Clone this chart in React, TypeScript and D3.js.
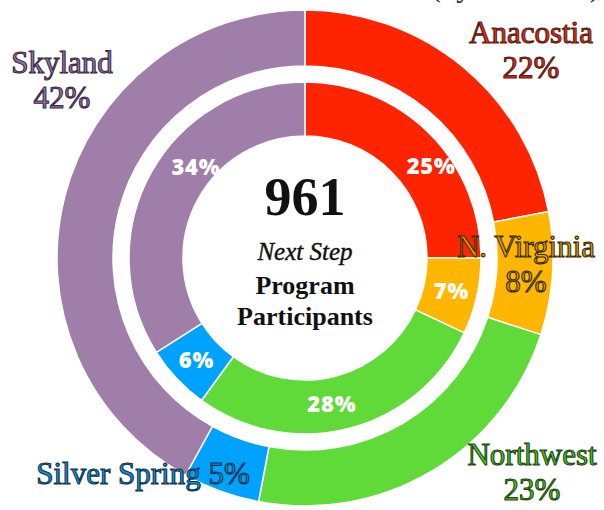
import React from "react";
import * as d3 from "d3";

const sites = ["Anacostia", "N. Virginia", "Northwest", "Silver Spring", "Skyland"];
const outerValues = [22, 8, 23, 5, 42];
const innerValues = [25, 7, 28, 6, 34];
const colors = ["#FF2400", "#FFB600", "#5FDA38", "#00A2FF", "#A07EAA"];
const labelFill = ["#E5301A", "#E8A400", "#4EC22E", "#1C8FD2", "#9678A4"];
const labelStroke = ["#5A1A10", "#3A2A00", "#1E4A12", "#0B3552", "#3A2A48"];
const totalParticipants = "961";

const W = 604;
const H = 510;
const cx = 305;
const cy = 258;

// outer label layout (annotation placement)
const outerLabelLayout: Record<string, { x: number; y: number; twoLine: boolean }> = {
  "Anacostia": { x: 531, y: 43, twoLine: true },
  "Skyland": { x: 62, y: 73, twoLine: true },
  "N. Virginia": { x: 526, y: 257, twoLine: true },
  "Northwest": { x: 532, y: 465, twoLine: true },
  "Silver Spring": { x: 143, y: 484, twoLine: false },
};

// inner label placement tweaks: angle shift (degrees) and radius
const innerLabelTweak: Record<string, { dAngle: number; r: number }> = {
  "Anacostia": { dAngle: 9, r: 156 },
  "N. Virginia": { dAngle: 0, r: 150 },
  "Northwest": { dAngle: 4, r: 149 },
  "Silver Spring": { dAngle: 0, r: 149 },
  "Skyland": { dAngle: 11, r: 142 },
};

export default function App() {
  const pie = d3.pie<number>().sort(null).value((d) => d);
  const outerArcs = pie(outerValues);
  const innerArcs = pie(innerValues);
  const outerArc = d3.arc<d3.PieArcDatum<number>>().innerRadius(192).outerRadius(248);
  const innerArc = d3.arc<d3.PieArcDatum<number>>().innerRadius(122).outerRadius(176);

  const serif = "'Liberation Serif', 'Times New Roman', serif";
  const sans = "'Open Sans', 'Noto Sans', sans-serif";

  return (
    <div style={{ position: "fixed", left: 0, top: 0, width: W, height: H, background: "#fff" }}>
      <svg width={W} height={H} viewBox={`0 0 ${W} ${H}`}>
        <rect width={W} height={H} fill="#fff" />
        <text x={600} y={-4} textAnchor="end" fontFamily={serif} fontSize={31} fill="#333">
          (by Location)
        </text>
        <g transform={`translate(${cx},${cy})`}>
          {outerArcs.map((a, i) => (
            <path key={"o" + i} d={outerArc(a) || ""} fill={colors[i]} stroke="#fff" strokeWidth={1.5} />
          ))}
          {innerArcs.map((a, i) => (
            <path key={"i" + i} d={innerArc(a) || ""} fill={colors[i]} stroke="#fff" strokeWidth={1.5} />
          ))}
          {innerArcs.map((a, i) => {
            const t = innerLabelTweak[sites[i]];
            const ang = (a.startAngle + a.endAngle) / 2 + (t.dAngle * Math.PI) / 180;
            const x = t.r * Math.sin(ang);
            const y = -t.r * Math.cos(ang);
            return (
              <text
                key={"il" + i}
                x={x}
                y={y}
                dy="0.36em"
                textAnchor="middle"
                fontFamily={sans}
                fontWeight={800}
                fontSize={22}
                letterSpacing={0.8}
                fill="#fff"
              >
                {innerValues[i]}%
              </text>
            );
          })}
        </g>
        {sites.map((s, i) => {
          const L = outerLabelLayout[s];
          const common = {
            fontFamily: serif,
            fontSize: 31,
            fill: labelFill[i],
            stroke: labelStroke[i],
            strokeWidth: 1.1,
            textAnchor: "middle" as const,
          };
          if (L.twoLine) {
            return (
              <g key={"ol" + i}>
                <text x={L.x} y={L.y} {...common}>{s}</text>
                <text x={L.x} y={L.y + 35} {...common}>{outerValues[i]}%</text>
              </g>
            );
          }
          return (
            <text key={"ol" + i} x={L.x} y={L.y} {...common}>
              {s} {outerValues[i]}%
            </text>
          );
        })}
        <g fontFamily={serif} textAnchor="middle" fill="#111">
          <text x={cx} y={215} fontSize={54} fontWeight={700}>{totalParticipants}</text>
          <text x={cx} y={260} fontSize={25} fontStyle="italic" stroke="#111" strokeWidth={0.4}>Next Step</text>
          <text x={cx} y={294} fontSize={26} fontWeight={700}>Program</text>
          <text x={cx} y={325} fontSize={26} fontWeight={700}>Participants</text>
        </g>
      </svg>
    </div>
  );
}
